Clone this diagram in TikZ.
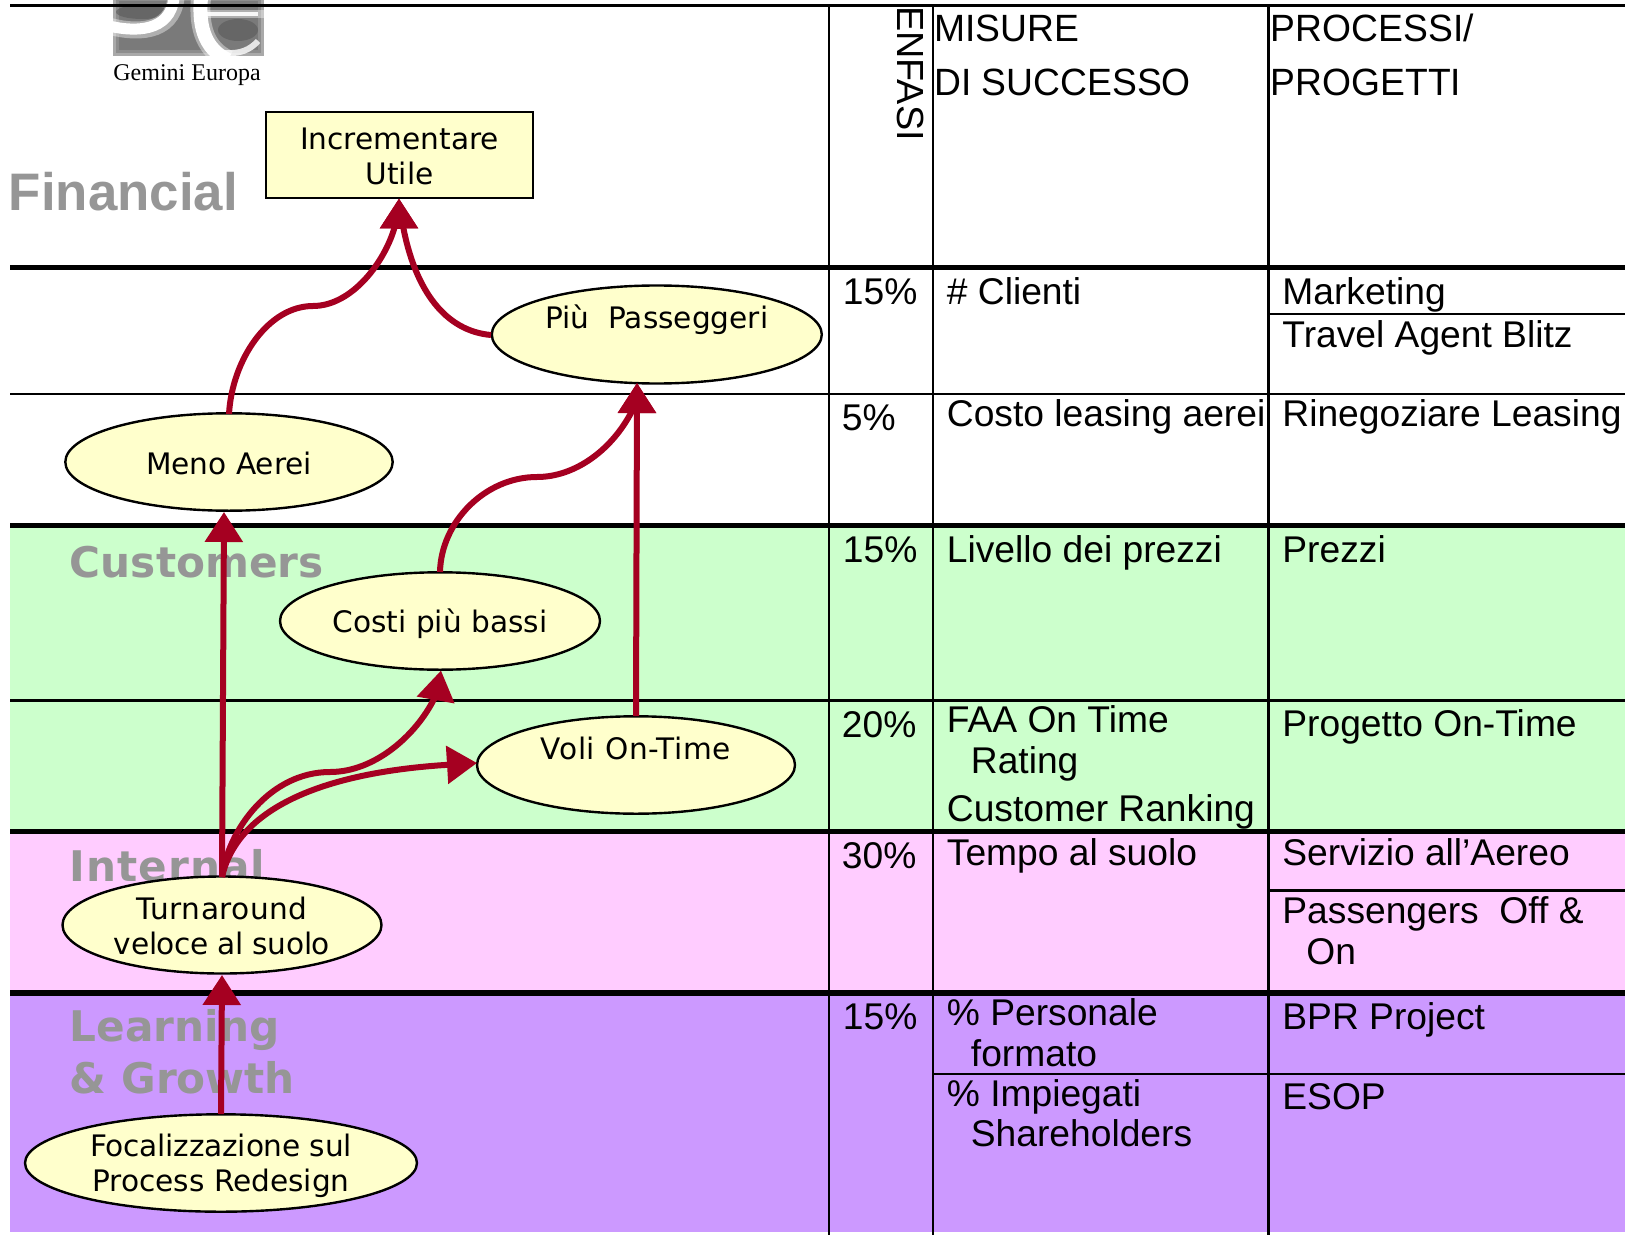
\documentclass[tikz,border=0pt]{standalone}
\usepackage{fontspec}
\usetikzlibrary{shapes.geometric,arrows.meta}
\setmainfont{Liberation Sans}
\newfontfamily\vfont{DejaVu Sans}
\newfontfamily\tfont{Liberation Serif}
\newfontfamily\hfont[FakeStretch=0.98]{Liberation Sans}
\definecolor{cgreen}{HTML}{CCFFCC}
\definecolor{cpink}{HTML}{FFCCFF}
\definecolor{cpurple}{HTML}{CC99FF}
\definecolor{cyel}{HTML}{FFFFCC}
\definecolor{carrow}{HTML}{A50021}
\definecolor{cgray}{HTML}{969696}
\tikzset{
  x=0.5pt,y=-0.5pt,
  thickline/.style={line width=2.9pt,black},
  thinline/.style={line width=1.2pt,black},
  tbl/.style={anchor=base west,inner sep=0pt,text=black,font=\fontsize{18.6pt}{22pt}\selectfont},
  hdr/.style={anchor=base west,inner sep=0pt,text=black,font=\hfont\fontsize{19pt}{22pt}\selectfont},
  lane/.style={anchor=base west,inner sep=0pt,text=cgray,font=\vfont\bfseries\fontsize{21.1pt}{25pt}\selectfont},
  goal/.style={ellipse,draw=black,line width=1.2pt,fill=cyel,inner sep=0pt},
  goalbox/.style={rectangle,draw=black,line width=1.3pt,fill=cyel,inner sep=0pt},
  goaltext/.style={inner sep=0pt,align=center,font=\vfont\fontsize{14.8pt}{17.8pt}\selectfont},
  link/.style={draw=carrow,line width=3pt,-{Triangle[length=15pt,width=18.5pt]}},
}
\begin{document}
\begin{tikzpicture}
\useasboundingbox (0,0) rectangle (1625,1235);
\fill[white] (0,0) rectangle (1625,1235);
% bands
\fill[cgreen] (10.4,525.5) rectangle (1625,831);
\fill[cpink] (10.4,831) rectangle (1625,993);
\fill[cpurple] (10.4,993) rectangle (1625,1232);
% logo
\begin{scope}
\clip (113,0) rectangle (264,56);
\fill[black!52] (113,0) rectangle (264,56);
\draw[white,opacity=.25,line width=3pt] (113,-5) rectangle (264,56);
\draw[white,opacity=.15,line width=6pt] (113,-5) rectangle (264,56);
\fill[black!65,opacity=.6] (142,12) ellipse (26 and 7);
\fill[black!65,opacity=.6] (238,30) ellipse (20 and 11);
\draw[white,line width=8.5pt,opacity=.4] (105,25) .. controls (135,34) and (172,34) .. (176,-2);
\draw[white,line width=5.5pt] (105,25) .. controls (135,33) and (170,32) .. (174,-2);
\draw[white,line width=10pt,opacity=.4] (201,-2) .. controls (198,30) and (207,50) .. (228,60);
\draw[white,line width=7pt] (201,-2) .. controls (198,30) and (207,50) .. (228,60);
\draw[white,line width=3pt,opacity=.8] (225,53) .. controls (240,54) and (250,50) .. (258,41);
\draw[white,line width=4pt,opacity=.4] (206,14) -- (264,14);
\draw[white,line width=2.4pt,opacity=.9] (206,14) -- (258,14);
\end{scope}
% rules
\draw[thinline] (10.4,5.5) -- (1625,5.5);
\draw[thickline] (10.4,267.5) -- (1625,267.5);
\draw[thinline] (10.4,394) -- (1625,394);
\draw[thickline] (10.4,525.5) -- (1625,525.5);
\draw[thinline] (10.4,700.5) -- (1625,700.5);
\draw[thickline] (10.4,831.5) -- (1625,831.5);
\draw[thickline] (10.4,993) -- (1625,993);
\draw[thinline] (829,5.5) -- (829,1235);
\draw[thinline] (933,5.5) -- (933,1235);
\draw[thinline] (1268.5,5.5) -- (1268.5,1235);
\draw[thinline] (1268.5,314) -- (1625,314);
\draw[thinline] (1268.5,890.5) -- (1625,890.5);
\draw[thinline] (933,1074) -- (1625,1074);
% left labels
\node[inner sep=0pt,anchor=base west,font=\tfont\fontsize{12pt}{14pt}\selectfont] (gem) at (113,80.5) {Gemini Europa};
\node[inner sep=0pt,anchor=base west,text=cgray,font=\bfseries\fontsize{26.4pt}{30pt}\selectfont] (fin) at (8.5,210.5) {Financial};
\node[lane] (cus) at (69.5,577) {Customers};
\node[lane] (int) at (69.5,881.5) {\addfontfeature{LetterSpace=2.4}Internal};
\node[lane] (lea) at (69.5,1041.5) {Learning};
\node[lane] (gro) at (69.5,1093) {\& Growth};
% headers
\node[anchor=base,inner sep=0pt,rotate=-90,font=\fontsize{18.9pt}{22pt}\selectfont] (enf) at (897,73.5) {ENFASI};
\node[hdr] (h1) at (934,41.5) {MISURE};
\node[hdr] (h2) at (934,95.5) {DI SUCCESSO};
\node[hdr] (h3) at (1270.5,41.5) {PROCESSI/};
\node[hdr] (h4) at (1270.5,95.5) {PROGETTI};
% table
\node[tbl] (a1) at (842.5,305) {15\%};
\node[tbl] (a2) at (841.5,430) {5\%};
\node[tbl] (a3) at (842.5,562) {15\%};
\node[tbl] (a4) at (841.5,737) {20\%};
\node[tbl] (a5) at (841.5,868.5) {30\%};
\node[tbl] (a6) at (842.5,1029) {15\%};
\node[tbl] (b1) at (946.5,305) {\# Clienti};
\node[tbl] (b2) at (946.5,426) {Costo leasing aerei};
\node[tbl] (b3) at (946.5,562) {Livello dei prezzi};
\node[tbl] (b4) at (946.5,732) {FAA On Time};
\node[tbl] (b5) at (970.5,773) {Rating};
\node[tbl] (b6) at (946.5,821) {Customer Ranking};
\node[tbl] (b7) at (946.5,865.5) {Tempo al suolo};
\node[tbl] (b8) at (946.5,1025) {\% Personale};
\node[tbl] (b9) at (970.5,1066.5) {formato};
\node[tbl] (b10) at (946.5,1106) {\% Impiegati};
\node[tbl] (b11) at (970.5,1146) {Shareholders};
\node[tbl] (c1) at (1282,305) {Marketing};
\node[tbl] (c2) at (1282,347) {Travel Agent Blitz};
\node[tbl] (c3) at (1282,426) {Rinegoziare Leasing};
\node[tbl] (c4) at (1282,562) {Prezzi};
\node[tbl] (c5) at (1282,736) {Progetto On-Time};
\node[tbl] (c6) at (1282,865.5) {Servizio all’Aereo};
\node[tbl] (c7) at (1282,923.5) {Passengers\ \ Off \&};
\node[tbl] (c8) at (1306,964) {On};
\node[tbl] (c9) at (1282,1029) {BPR Project};
\node[tbl] (c10) at (1282,1109.5) {ESOP};
% goals
\node[goalbox,minimum width=133.5pt,minimum height=43pt,label={[goaltext,yshift=-.7pt]center:Incrementare\\Utile}] (util) at (399.5,155) {};
\node[goal,minimum width=165pt,minimum height=49pt,label={[goaltext,yshift=7.5pt]center:Più\ \ Passeggeri}] (piu) at (656.8,334.5) {};
\node[goal,minimum width=163.7pt,minimum height=48.7pt,label={[goaltext,yshift=-.7pt]center:Meno Aerei}] (meno) at (229,462) {};
\node[goal,minimum width=160pt,minimum height=48.7pt,label={[goaltext,yshift=-1.5pt]center:Costi più bassi}] (costi) at (440,621) {};
\node[goal,minimum width=159pt,minimum height=48.7pt,label={[goaltext,yshift=8.5pt]center:{\addfontfeature{LetterSpace=2}Voli On-Time}}] (voli) at (636,765) {};
\node[goal,minimum width=159.5pt,minimum height=48.5pt,label={[goaltext,yshift=-.5pt]center:{\addfontfeature{LetterSpace=1.7}Turnaround}\\{\addfontfeature{LetterSpace=-1.2}veloce al suolo}}] (turn) at (222,925) {};
\node[goal,minimum width=196pt,minimum height=48.7pt,label={[goaltext,yshift=-1.5pt]center:{\addfontfeature{LetterSpace=-.6}Focalizzazione sul}\\Process Redesign}] (foc) at (221,1163) {};
% connectors
\coordinate (utip) at (399,198.5);
\coordinate (ubase) at (399,226);
\coordinate (ptip) at (637,383);
\coordinate (pbase) at (637,411);
\coordinate (ctip) at (441,670.5);
\coordinate (mtip) at (224,512);
\coordinate (ttip) at (222,975);
\coordinate (tout) at (222,877);
\coordinate (mout) at (229,414);
\coordinate (cout) at (440,572);
\coordinate (vout) at (636,716);
\coordinate (fout) at (221,1114);
\coordinate (vin) at (477,763);
\coordinate (pin) at (491,335);
\draw[link] (mout) .. controls (232,360) and (268,306) .. (313,306) .. controls (352,306) and (385,262) .. (395,226) -- (ubase) -- (utip);
\draw[link] (pin) .. controls (445,331) and (415,290) .. (403,226) -- (ubase) -- (utip);
\draw[link] (cout) .. controls (441,522) and (485,477) .. (537,477) .. controls (575,477) and (612,450) .. (632,411) -- (pbase) -- (ptip);
\draw[link] (vout) -- (ptip);
\draw[link] (tout) -- (mtip);
\draw[link] (tout) .. controls (228,830) and (270,772) .. (330,772) .. controls (375,772) and (416,735) .. (434,699) -- (436,698) -- (ctip);
\draw[link] (tout) .. controls (238,805) and (330,772) .. (vin);
\draw[link] (fout) -- (ttip);
\end{tikzpicture}
\end{document}
